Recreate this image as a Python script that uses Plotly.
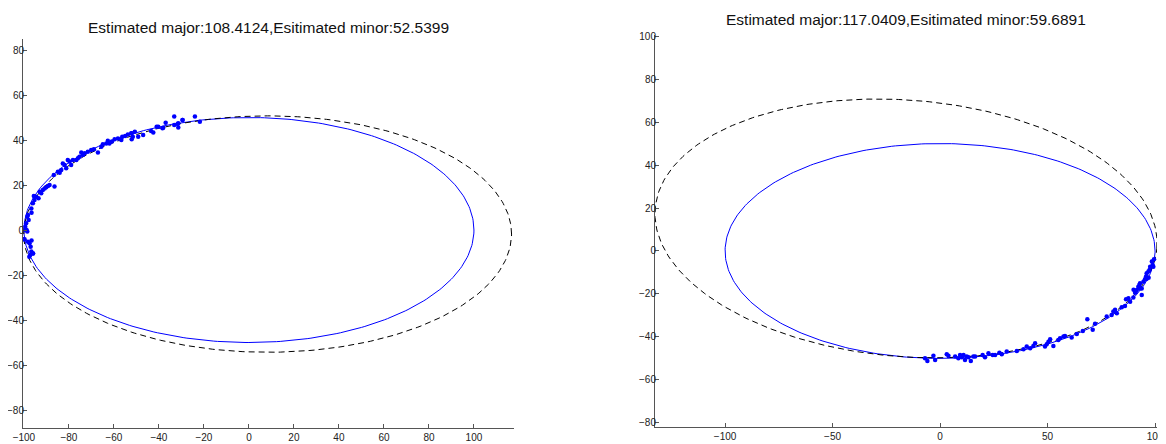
import numpy as np
import plotly.graph_objects as go

# ---------------- data ----------------
# true ellipse (blue solid): center x, center y, semi-axis x, semi-axis y
true_ellipse = [0.0, 0.0, 100.0, 50.0]

# left panel: fitted ellipse (dashed): cx, cy, major, minor, angle(deg)
left_fit = [8.3, -1.8, 108.4124, 52.5399, 0.0]
left_title = "Estimated major:108.4124,Esitimated minor:52.5399"
left_pts_x = [-21.8, -24.0, -29.5, -31.4, -31.7, -33.2, -33.2, -37.0, -38.4, -40.3,
              -41.0, -42.5, -43.5, -47.0, -49.2, -50.7, -52.1, -52.1, -52.3, -53.8,
              -55.0, -51.6, -56.3, -58.2, -56.7, -59.7, -60.9, -62.7, -63.4, -62.0,
              -64.9, -65.6, -67.1, -68.9, -70.1, -71.6, -73.0, -74.5, -73.8, -75.3,
              -76.7, -76.0, -78.2, -79.0, -80.5, -79.7, -81.9, -81.2, -82.7, -83.4,
              -84.9, -84.1, -86.4, -86.7, -88.6, -89.3, -90.1, -90.8, -91.6, -92.3,
              -93.0, -93.5, -94.5, -95.3, -95.6, -96.0, -96.7, -96.6, -98.2, -98.5,
              -97.9, -99.0, -99.4, -99.4, -98.5, -98.8, -99.7, -100.0, -96.6, -98.2,
              -97.5, -97.0, -96.7, -95.9, -96.0, -97.2, -97.6, -31.4, -29.5, -38.1]
left_pts_y = [48.1, 50.4, 48.9, 45.6, 47.1, 46.7, 50.4, 47.7, 45.2, 45.9,
              45.9, 43.3, 44.0, 42.2, 41.5, 43.7, 43.0, 40.3, 43.0, 42.5,
              41.8, 41.5, 41.5, 40.7, 40.0, 40.3, 39.3, 39.7, 38.5, 38.5,
              38.1, 37.0, 34.5, 35.9, 35.6, 34.8, 34.1, 34.5, 33.3, 32.6,
              31.1, 31.9, 31.1, 28.9, 31.1, 30.4, 28.9, 27.4, 29.6, 26.7,
              25.9, 25.5, 19.3, 24.4, 20.0, 19.6, 19.0, 18.5, 17.8, 16.3,
              17.0, 14.1, 14.8, 13.3, 15.1, 11.9, 9.6, 7.7, 6.7, 5.9,
              4.4, 3.0, 1.5, 0.0, -0.7, 0.0, -4.1, -4.1, -4.7, -5.2,
              -5.9, -7.4, -9.6, -10.4, -10.4, -11.1, -11.9, 47.4, 48.9, 45.5]

# right panel
right_fit = [-15.85, 10.5, 117.0409, 59.6891, -4.5]
right_title = "Estimated major:117.0409,Esitimated minor:59.6891"
right_pts_x = [-7.0, -5.9, -3.1, -2.3, 3.1, 3.9, 7.0, 8.5, 9.3, 10.1,
               10.9, 12.4, 13.2, 14.3, 15.5, 19.8, 20.9, 22.5, 24.5, 27.6,
               28.7, 31.0, 35.7, 38.8, 40.3, 41.9, 43.4, 44.2, 48.8, 49.6,
               50.4, 51.2, 52.7, 55.0, 55.8, 57.4, 58.1, 61.2, 63.6, 66.4,
               68.5, 71.0, 72.1, 77.5, 79.8, 80.6, 81.4, 82.2, 84.5, 86.0,
               86.5, 87.6, 88.4, 89.9, 90.7, 91.5, 92.2, 92.7, 93.0, 93.8,
               93.8, 94.6, 95.3, 95.8, 96.1, 96.9, 97.4, 97.7, 98.5, 98.9,
               99.2, 99.5, 97.0, 96.0, 93.0, 91.0, 90.0, 11.6, 16.3, 25.6]
right_pts_y = [-49.9, -51.2, -48.8, -50.7, -48.1, -48.8, -49.1, -49.9, -48.4, -49.5,
               -48.4, -49.1, -49.5, -51.2, -49.1, -48.4, -49.5, -47.6, -48.4, -47.3,
               -48.1, -46.8, -46.5, -45.7, -44.5, -45.3, -44.2, -42.9, -44.5, -43.4,
               -42.2, -41.1, -44.2, -41.4, -40.6, -39.8, -39.5, -40.2, -38.6, -37.2,
               -31.8, -36.7, -33.9, -30.5, -29.8, -28.2, -27.4, -29.0, -26.2, -25.6,
               -22.5, -22.0, -23.6, -21.6, -19.4, -18.1, -16.6, -15.8, -15.0, -17.4,
               -20.5, -14.3, -13.2, -11.9, -10.4, -9.6, -8.8, -7.3, -4.9, -6.5,
               -7.3, -3.8, -12.5, -13.0, -17.5, -19.0, -18.0, -50.7, -49.1, -48.4]

left_xrange = [-100.4, 117.8]
left_yrange = [-88.0, 84.9]
right_xrange = [-132.6, 100.9]
right_yrange = [-81.9, 100.5]
left_xticks = [-100, -80, -60, -40, -20, 0, 20, 40, 60, 80, 100]
left_yticks = [-80, -60, -40, -20, 0, 20, 40, 60, 80]
right_xticks = [-100, -50, 0, 50, 100]
right_yticks = [-80, -60, -40, -20, 0, 20, 40, 60, 80, 100]


def ellipse_curve(cx, cy, a, b, ang_deg=0.0, n=361):
    t = np.linspace(0, 2 * np.pi, n)
    th = np.deg2rad(ang_deg)
    ex, ey = a * np.cos(t), b * np.sin(t)
    return cx + ex * np.cos(th) - ey * np.sin(th), cy + ex * np.sin(th) + ey * np.cos(th)


fig = go.Figure()
W, H = 1166, 444
OFF = 8  # the page body margin shifts the figure by 8px


def fx(p):
    return (p - OFF) / W


def fy(p):
    return (H - (p - OFF)) / H


panels = [
    ("x", "y", left_fit, left_pts_x, left_pts_y),
    ("x2", "y2", right_fit, right_pts_x, right_pts_y),
]
for xa, ya, fit, px, py in panels:
    bx, by = ellipse_curve(*true_ellipse[:4])
    fig.add_trace(go.Scatter(x=bx, y=by, mode="lines", xaxis=xa, yaxis=ya,
                             line=dict(color="#0000ff", width=1), showlegend=False, hoverinfo="skip"))
    ex, ey = ellipse_curve(*fit)
    fig.add_trace(go.Scatter(x=ex, y=ey, mode="lines", xaxis=xa, yaxis=ya,
                             line=dict(color="#000000", width=1, dash="6px,4px"),
                             showlegend=False, hoverinfo="skip"))
    fig.add_trace(go.Scatter(x=px, y=py, mode="markers", xaxis=xa, yaxis=ya,
                             marker=dict(color="#0000ff", size=4.5, line=dict(width=0)),
                             showlegend=False))

axis_common = dict(showgrid=False, zeroline=False, showline=True, linecolor="#555555",
                   linewidth=1, ticks="inside", ticklen=4, tickcolor="#555555",
                   tickfont=dict(family="Liberation Sans, Arial", size=10, color="#222222"),
                   mirror=False, fixedrange=True, automargin=False)

title_font = dict(family="Liberation Sans, Arial", size=15.5, color="#111111")

fig.update_layout(
    width=W, height=H,
    margin=dict(l=0, r=0, t=0, b=0, autoexpand=False),
    paper_bgcolor="white", plot_bgcolor="white",
    xaxis=dict(domain=[fx(23), fx(514)], range=left_xrange, tickvals=left_xticks,
               anchor="y", **axis_common),
    yaxis=dict(domain=[fy(428), fy(39)], range=left_yrange, tickvals=left_yticks,
               anchor="x", ticklabelstandoff=-4, **axis_common),
    xaxis2=dict(domain=[fx(655), fx(1157)], range=right_xrange, tickvals=right_xticks,
                anchor="y2", **axis_common),
    yaxis2=dict(domain=[fy(427), fy(35)], range=right_yrange, tickvals=right_yticks,
                anchor="x2", ticklabelstandoff=-4, **axis_common),
    annotations=[
        dict(text=left_title, x=fx((23 + 514) / 2), y=fy(27), xref="paper", yref="paper",
             showarrow=False, xanchor="center", yanchor="middle", font=title_font),
        dict(text=right_title, x=fx((655 + 1157) / 2), y=fy(20), xref="paper", yref="paper",
             showarrow=False, xanchor="center", yanchor="middle", font=title_font),
    ],
)

fig.write_html("out.html")
